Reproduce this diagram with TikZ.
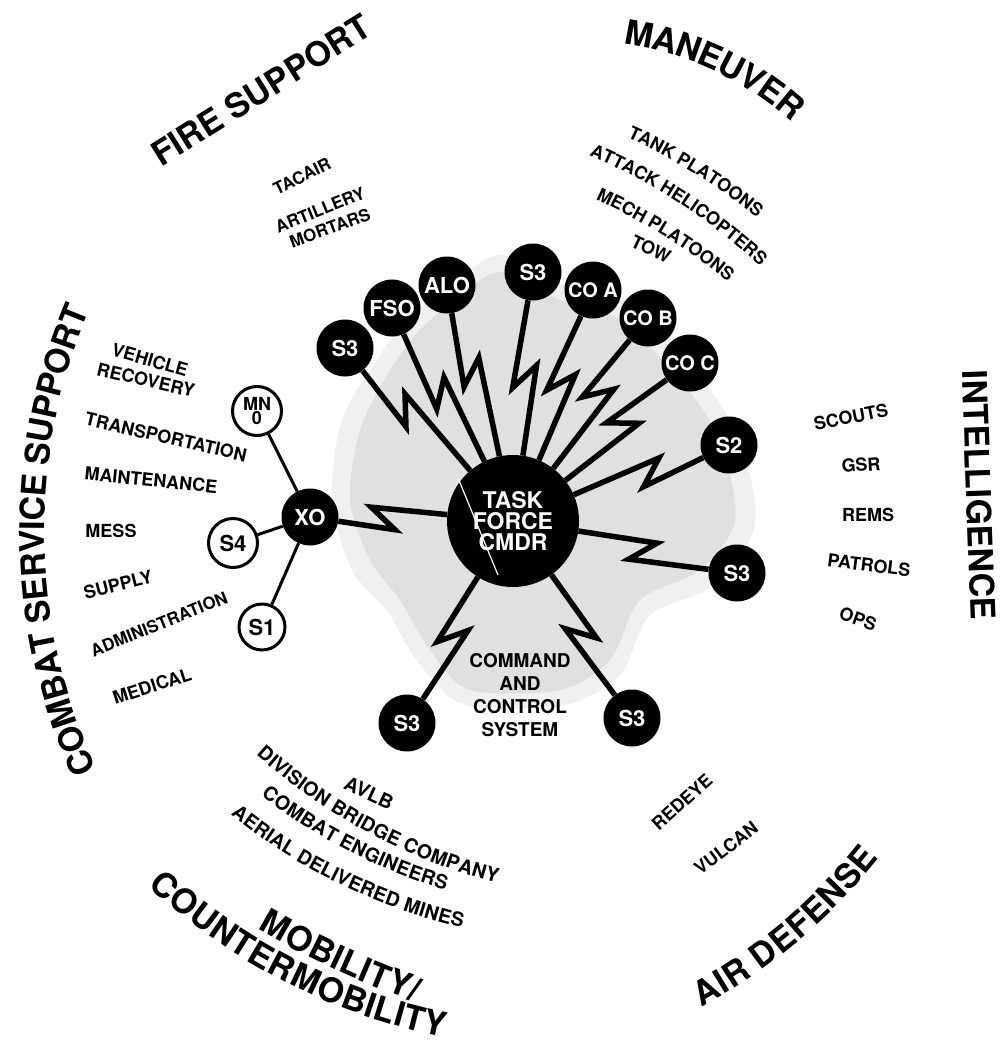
\documentclass[tikz,border=0pt]{standalone}
\usepackage{fontspec}
\setmainfont{TeX Gyre Heros}
\usetikzlibrary{calc,decorations.text}
\pgfdeclarelayer{bg}
\pgfdeclarelayer{wires}
\pgfsetlayers{bg,wires,main}
\newcommand\hfont{\bfseries\fontsize{34}{34}\selectfont}
\newcommand\lfont{\bfseries\fontsize{18}{18}\selectfont}
\newcommand\mfont{\bfseries\fontsize{19.5}{19.5}\selectfont}
\newcommand\ffont{\bfseries\fontsize{17}{17}\selectfont}
\newcommand\sfont{\bfseries\fontsize{22}{22}\selectfont}
% text whose letters sit on the convex side of an arc (path turns right)
\newcommand\archtext[6]{%
  \path[decorate,decoration={text along path,text align=center,raise=#2,text={|#1|#6}}]
    ($#3+({#4-90}:#5)+({#4+90+100*(180/#5)}:#5)$)
    arc[start angle={#4+90+100*(180/#5)}, end angle={#4+90-100*(180/#5)}, radius=#5];}
% text whose letters sit on the concave side of an arc (path turns left)
\newcommand\smiletext[6]{%
  \path[decorate,decoration={text along path,text align=center,raise=#2,text={|#1|#6}}]
    ($#3+({#4+90}:#5)+({#4-90-100*(180/#5)}:#5)$)
    arc[start angle={#4-90-100*(180/#5)}, end angle={#4-90+100*(180/#5)}, radius=#5];}
% lightning connector: from, to, place of the zig, side of the zig (90 or -90)
\newcommand\bolt[4]{%
  \draw[boltline] (#1) -- ($(#1)!#3!(#2)!12pt!(#2)!11pt!#4:(#2)$)
     -- ($(#1)!#3!(#2)!12pt!(#1)!11pt!#4:(#1)$) -- (#2);}
\begin{document}
\begin{tikzpicture}[x=1pt,y=1pt,
  hub/.style={circle,fill=black,minimum size=132pt,inner sep=0pt,text=white,align=center,font=\bfseries\fontsize{23}{21}\selectfont},
  sat/.style={circle,fill=black,minimum size=57pt,inner sep=0pt,text=white,font=\sfont},
  aux/.style={circle,draw=black,line width=3pt,fill=white,minimum size=49pt,inner sep=0pt,font=\sfont},
  lbl/.style={font=\lfont,inner sep=0pt},
  flbl/.style={font=\ffont,inner sep=0pt},
  head/.style={font=\hfont,inner sep=0pt},
  boltline/.style={line width=5.5pt,line join=miter,miter limit=12},
  link/.style={line width=3pt}]
\useasboundingbox (0,0) rectangle (1003,-1052);
\begin{pgfonlayer}{bg}
\fill[white] (0,0) rectangle (1003,-1052);
\fill[black!6] plot[smooth cycle] coordinates {(450,-285) (500,-255) (565,-285) (630,-305) (695,-370) (740,-440) (755,-525) (715,-585) (650,-615) (620,-675) (565,-705) (465,-705) (418,-662) (388,-612) (352,-570) (332,-500) (342,-420) (378,-358) (412,-315)};
\fill[black!12] plot[smooth cycle] coordinates {(455,-300) (500,-272) (560,-300) (620,-320) (680,-380) (720,-440) (735,-520) (700,-570) (640,-600) (610,-660) (560,-690) (470,-690) (430,-650) (400,-600) (370,-560) (350,-500) (360,-430) (390,-370) (420,-330)};
\end{pgfonlayer}

% nodes
\node[hub] (cmdr) at (513,-521) {TASK\\FORCE\\CMDR};
\node[sat] (s3a) at (345,-348) {S3};
\node[sat] (fso) at (392,-308) {FSO};
\node[sat] (alo) at (447,-285) {ALO};
\node[sat] (s3b) at (533,-272) {S3};
\node[sat,font=\bfseries\fontsize{20}{20}\selectfont] (coa) at (593,-290) {CO A};
\node[sat,font=\bfseries\fontsize{20}{20}\selectfont] (cob) at (648,-318) {CO B};
\node[sat,font=\bfseries\fontsize{20}{20}\selectfont] (coc) at (690,-363) {CO C};
\node[sat] (s2) at (729,-445) {S2};
\node[sat] (s3c) at (737,-573) {S3};
\node[sat] (s3d) at (632,-718) {S3};
\node[sat] (s3e) at (407,-723) {S3};
\node[sat] (xo) at (310,-517) {XO};
\node[aux,align=center,font=\bfseries\fontsize{18}{14}\selectfont] (mn) at (257,-411) {MN\\0};
\node[aux] (s4) at (233,-543) {S4};
\node[aux,minimum size=46pt] (s1) at (262,-627) {S1};

\coordinate (wl1) at (458,-478);
\coordinate (wl2) at (498,-575);
\draw[white,line width=1.2pt] (wl1) -- (wl2);

\begin{pgfonlayer}{wires}
\bolt{s3a}{cmdr}{0.36}{-90}
\bolt{fso}{cmdr}{0.40}{-90}
\bolt{alo}{cmdr}{0.37}{-90}
\bolt{s3b}{cmdr}{0.42}{-90}
\bolt{coa}{cmdr}{0.40}{-90}
\bolt{cob}{cmdr}{0.37}{-90}
\bolt{coc}{cmdr}{0.38}{-90}
\bolt{s2}{cmdr}{0.36}{90}
\bolt{s3c}{cmdr}{0.42}{90}
\bolt{s3d}{cmdr}{0.43}{90}
\bolt{s3e}{cmdr}{0.43}{-90}
\bolt{xo}{cmdr}{0.36}{-90}
\draw[link] (xo) -- (mn);
\draw[link] (xo) -- (s4);
\draw[link] (xo) -- (s1);
\end{pgfonlayer}

\node[font=\bfseries\fontsize{19}{23}\selectfont,align=center] (cc) at (520,-695) {COMMAND\\AND\\CONTROL\\SYSTEM};

% headings
\node[head,rotate=32] (fire) at (261,-90) {FIRE SUPPORT};
\archtext{\hfont}{-12.5pt}{(719,-59)}{-25}{330}{MANEUVER}
\node[head,rotate=-88] (intel) at (979,-495) {INTELLIGENCE};
\archtext{\hfont}{-12.5pt}{(32,-541)}{91}{580}{COMBAT SERVICE SUPPORT}
\smiletext{\hfont}{-12.5pt}{(790,-932)}{40}{573}{AIR DEFENSE}
\smiletext{\hfont}{-12.5pt}{(340,-958)}{-25}{860}{MOBILITY/}
\smiletext{\hfont}{-12.5pt}{(291,-971)}{-27}{600}{COUNTERMOBILITY}

% fire support
\node[flbl,rotate=26] (tacair) at (302,-176) {TACAIR};
\node[flbl,rotate=22] (art) at (320,-210) {ARTILLERY};
\node[flbl,rotate=20] (mort) at (330,-228) {MORTARS};

% maneuver
\archtext{\lfont}{-6.5pt}{(698,-168)}{-32}{600}{TANK PLATOONS}
\archtext{\lfont}{-6.5pt}{(683,-198)}{-33}{600}{ATTACK HELICOPTERS}
\archtext{\lfont}{-6.5pt}{(668,-231)}{-32}{600}{MECH PLATOONS}
\node[lbl,rotate=-25] (tow) at (651,-249) {TOW};

% intelligence
\node[lbl,rotate=11] (scouts) at (851,-417) {SCOUTS};
\node[lbl,rotate=4] (gsr) at (861,-465) {GSR};
\node[lbl] (rems) at (868,-515) {REMS};
\node[lbl,rotate=-7] (patrols) at (869,-565) {PATROLS};
\node[lbl,rotate=-20] (ops) at (858,-619) {OPS};

% combat service support
\node[lbl,rotate=-16] (veh) at (150,-360) {VEHICLE};
\node[lbl,rotate=-13] (rec) at (146,-380) {RECOVERY};
\node[lbl,rotate=-13] (trans) at (166,-437) {TRANSPORTATION};
\node[lbl,rotate=-6] (maint) at (151,-480) {MAINTENANCE};
\node[lbl] (mess) at (111,-531) {MESS};
\node[lbl,rotate=14] (supply) at (118,-585) {SUPPLY};
\node[lbl,rotate=22,font=\bfseries\fontsize{17}{17}\selectfont] (admin) at (159,-624) {ADMINISTRATION};
\node[lbl,rotate=18] (medical) at (152,-686) {MEDICAL};

% mobility
\node[lbl,rotate=-25,font=\mfont] (avlb) at (369,-793) {AVLB};
\smiletext{\mfont}{-7pt}{(372,-827)}{-28}{570}{DIVISION BRIDGE COMPANY}
\smiletext{\mfont}{-7pt}{(352,-845)}{-27}{570}{COMBAT ENGINEERS}
\smiletext{\mfont}{-7pt}{(343,-878)}{-26}{570}{AERIAL DELIVERED MINES}

% air defense
\node[lbl,rotate=42] (redeye) at (682,-802) {REDEYE};
\node[lbl,rotate=37] (vulcan) at (726,-848) {VULCAN};
\end{tikzpicture}
\end{document}
